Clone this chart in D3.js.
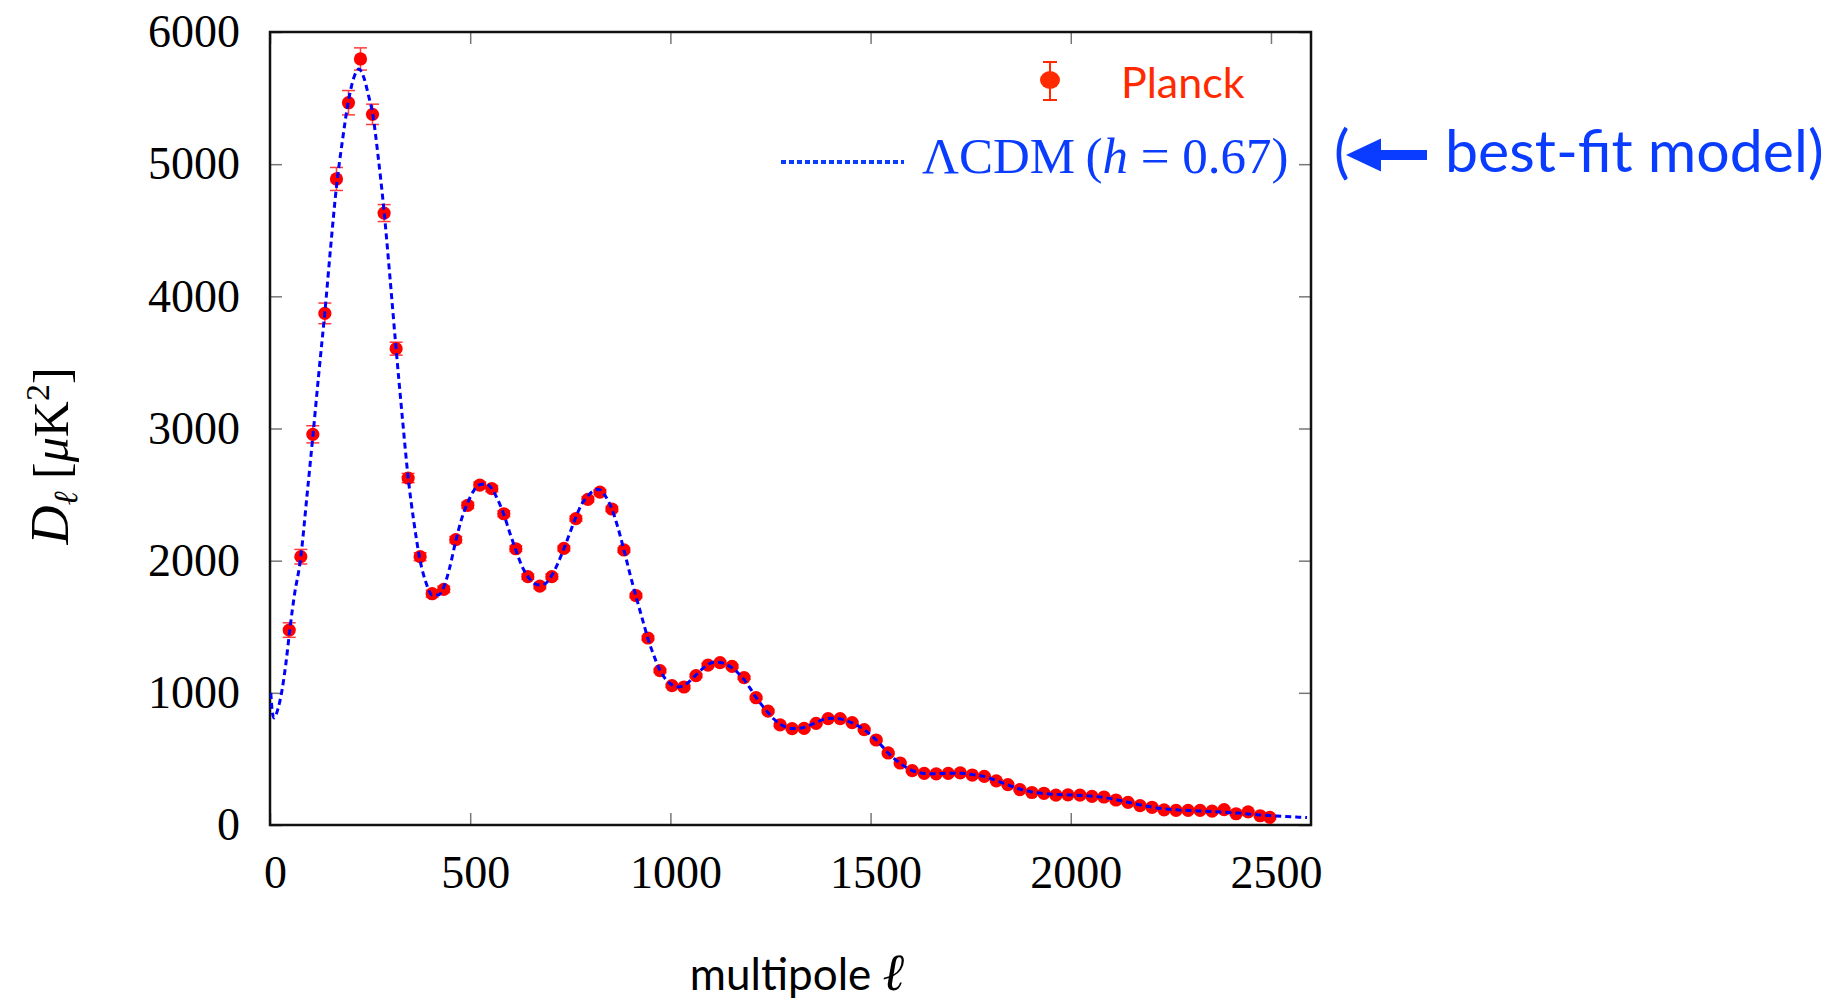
<!DOCTYPE html>
<html>
<head>
<meta charset="utf-8">
<script src="https://cdn.jsdelivr.net/npm/d3@7/dist/d3.min.js"></script>
<style>
  html, body { margin: 0; padding: 0; background: #fff; }
  svg { display: block; }
</style>
</head>
<body>
<svg id="chart" width="1840" height="1001"></svg>
<script>
// Planck binned TT power spectrum: multipole bin centres, D_ell [muK^2] and 1-sigma errors
const ell = [48, 77, 107, 137, 166, 196, 226, 256, 285, 315, 345, 375, 405, 434, 464, 494, 524, 554, 584, 614,
  644, 674, 704, 734, 764, 794, 824, 854, 884, 914, 944, 974, 1004, 1034, 1064, 1094, 1124, 1154, 1184, 1214,
  1244, 1274, 1304, 1334, 1364, 1394, 1424, 1454, 1484, 1514, 1544, 1574, 1604, 1634, 1664, 1694, 1724, 1754,
  1784, 1814, 1843, 1873, 1903, 1933, 1963, 1993, 2023, 2053, 2083, 2113, 2143, 2173, 2203, 2233, 2263, 2293,
  2323, 2353, 2383, 2413, 2443, 2473, 2497];
const Dl = [1475, 2030, 2956, 3871, 4888, 5465, 5796, 5377, 4630, 3604, 2625, 2030, 1750, 1783, 2159, 2419, 2572, 2545, 2355, 2090,
  1879, 1808, 1879, 2093, 2318, 2464, 2519, 2391, 2081, 1735, 1415, 1168, 1054, 1044, 1130, 1210, 1228, 1200, 1115, 963,
  861, 757, 729, 731, 769, 805, 805, 774, 722, 643, 545, 469, 411, 391, 387, 391, 394, 378,
  368, 334, 305, 268, 246, 240, 226, 228, 226, 217, 212, 189, 171, 147, 134, 115, 111, 111,
  111, 105, 116, 85, 99, 70, 58];
const DlErr = [55, 55, 65, 78, 87, 92, 84, 77, 64, 49, 35, 30, 26, 24, 24, 24, 24, 23, 22, 21,
  20, 19, 19, 19, 19, 19, 19, 18, 17, 16, 15, 14, 13, 13, 13, 13, 13, 12, 12, 11,
  11, 10, 10, 10, 10, 10, 10, 10, 10, 9, 9, 9, 9, 9, 9, 9, 9, 9,
  9, 9, 9, 9, 9, 9, 9, 9, 10, 10, 10, 10, 10, 10, 10, 11, 11, 11,
  11, 12, 12, 12, 13, 13, 14];

// Best-fit LambdaCDM model (h = 0.67)
const modelEll = [2, 6, 10, 20, 30, 40, 50, 60, 77, 92, 107, 122, 137, 152, 166, 181, 196, 210, 222, 235,
  246, 256, 270, 285, 300, 315, 330, 345, 360, 375, 390, 405, 420, 434, 449, 464, 479, 494, 509, 524,
  539, 554, 569, 584, 599, 614, 629, 644, 659, 674, 689, 704, 719, 734, 749, 764, 779, 794, 809, 820,
  835, 854, 869, 884, 899, 914, 929, 944, 959, 974, 989, 1004, 1019, 1034, 1049, 1064, 1079, 1094, 1109, 1124,
  1139, 1154, 1169, 1184, 1199, 1214, 1229, 1244, 1259, 1274, 1289, 1304, 1319, 1334, 1349, 1364, 1379, 1394, 1409, 1424,
  1439, 1454, 1469, 1484, 1499, 1514, 1529, 1544, 1559, 1574, 1589, 1604, 1619, 1634, 1664, 1694, 1724, 1754, 1784, 1814,
  1843, 1873, 1903, 1933, 1963, 1993, 2023, 2053, 2083, 2113, 2143, 2173, 2203, 2233, 2263, 2293, 2323, 2353, 2383, 2413,
  2443, 2473, 2503, 2533, 2563, 2590];
const modelD = [1000, 850, 810, 880, 1020, 1230, 1490, 1720, 2030, 2480, 2940, 3420, 3880, 4390, 4830, 5180, 5480, 5660, 5720, 5650,
  5520, 5390, 5060, 4640, 4130, 3600, 3100, 2630, 2280, 2000, 1830, 1740, 1740, 1800, 1950, 2150, 2320, 2440, 2530, 2575,
  2580, 2545, 2460, 2350, 2210, 2080, 1960, 1880, 1830, 1815, 1830, 1890, 1980, 2090, 2210, 2330, 2430, 2490, 2530, 2540,
  2500, 2390, 2250, 2080, 1900, 1730, 1570, 1410, 1280, 1170, 1100, 1060, 1045, 1055, 1090, 1135, 1180, 1215, 1232, 1230,
  1215, 1190, 1150, 1100, 1035, 965, 905, 850, 800, 765, 740, 730, 730, 740, 755, 775, 795, 805, 808, 803,
  790, 772, 750, 722, 685, 643, 595, 545, 503, 467, 435, 412, 398, 390, 388, 392, 392, 382, 366, 336,
  303, 272, 250, 238, 232, 228, 224, 218, 208, 192, 172, 152, 135, 123, 115, 110, 106, 102, 97, 91,
  84, 76, 70, 64, 60, 57];

// Axis ticks
const xTicks = [0, 500, 1000, 1500, 2000, 2500];
const yTicks = [0, 1000, 2000, 3000, 4000, 5000, 6000];

const svg = d3.select("#chart");
svg.append("rect").attr("width", 1840).attr("height", 1001).attr("fill", "#fff");

const plotLeft = 270, plotRight = 1311, plotTop = 32, plotBottom = 825;
const x = d3.scaleLinear().domain([0, 2600]).range([plotLeft, plotRight]);
const y = d3.scaleLinear().domain([0, 6000]).range([plotBottom, plotTop]);

const serif = "'Liberation Serif', 'Times New Roman', serif";
const sans = "Lato, 'Open Sans', sans-serif";
const blue = "#0a3cff";
const fmt = d3.format("d");

// Inward ticks on all four sides
function styleAxis(g) {
  g.select(".domain").remove();
  g.selectAll(".tick line").attr("stroke", "#777").attr("stroke-width", 1.5);
  g.selectAll("text").attr("font-family", serif).attr("font-size", 46).attr("fill", "#000");
}
svg.append("g").attr("transform", `translate(0,${plotBottom})`)
  .call(d3.axisBottom(x).tickValues(xTicks).tickFormat(fmt).tickSizeInner(-12).tickSizeOuter(0).tickPadding(30))
  .call(styleAxis)
  .call(g => g.selectAll("text").attr("dx", 5));
svg.append("g").attr("transform", `translate(0,${plotTop})`)
  .call(d3.axisTop(x).tickValues(xTicks).tickSizeInner(-12).tickSizeOuter(0).tickFormat(""))
  .call(styleAxis);
svg.append("g").attr("transform", `translate(${plotLeft},0)`)
  .call(d3.axisLeft(y).tickValues(yTicks).tickFormat(fmt).tickSizeInner(-12).tickSizeOuter(0).tickPadding(30))
  .call(styleAxis);
svg.append("g").attr("transform", `translate(${plotRight},0)`)
  .call(d3.axisRight(y).tickValues(yTicks).tickSizeInner(-12).tickSizeOuter(0).tickFormat(""))
  .call(styleAxis);

// Plot frame
svg.append("rect").attr("x", plotLeft).attr("y", plotTop)
  .attr("width", plotRight - plotLeft).attr("height", plotBottom - plotTop)
  .attr("fill", "none").attr("stroke", "#111").attr("stroke-width", 2.5);

svg.append("clipPath").attr("id", "plotclip").append("rect")
  .attr("x", plotLeft).attr("y", plotTop).attr("width", plotRight - plotLeft).attr("height", plotBottom - plotTop);
const plot = svg.append("g").attr("clip-path", "url(#plotclip)");

// Data points with error bars
const pts = ell.map((l, i) => ({ l, d: Dl[i], e: DlErr[i] }));
const eb = plot.append("g").attr("stroke", "#ff3b3b").attr("stroke-width", 1.5);
eb.selectAll("line.v").data(pts).join("line").attr("class", "v")
  .attr("x1", d => x(d.l)).attr("x2", d => x(d.l))
  .attr("y1", d => y(d.d - d.e)).attr("y2", d => y(d.d + d.e));
eb.selectAll("line.t").data(pts).join("line").attr("class", "t")
  .attr("x1", d => x(d.l) - 6.5).attr("x2", d => x(d.l) + 6.5)
  .attr("y1", d => y(d.d + d.e)).attr("y2", d => y(d.d + d.e));
eb.selectAll("line.b").data(pts).join("line").attr("class", "b")
  .attr("x1", d => x(d.l) - 6.5).attr("x2", d => x(d.l) + 6.5)
  .attr("y1", d => y(d.d - d.e)).attr("y2", d => y(d.d - d.e));
plot.append("g").selectAll("circle").data(pts).join("circle")
  .attr("cx", d => x(d.l)).attr("cy", d => y(d.d)).attr("r", 6.6).attr("fill", "#ff0000");

// Model curve drawn over the points
const model = modelEll.map((l, i) => [l, modelD[i]]);
plot.append("path").datum(model)
  .attr("fill", "none").attr("stroke", "#0000ff").attr("stroke-width", 3)
  .attr("stroke-dasharray", "6,4")
  .attr("d", d3.line().x(d => x(d[0])).y(d => y(d[1])).curve(d3.curveMonotoneX));

// Legend
const lg = svg.append("g");
lg.append("line").attr("x1", 1050).attr("x2", 1050).attr("y1", 62).attr("y2", 100)
  .attr("stroke", "#ff2a00").attr("stroke-width", 2);
lg.append("line").attr("x1", 1043).attr("x2", 1057).attr("y1", 62).attr("y2", 62)
  .attr("stroke", "#ff2a00").attr("stroke-width", 2);
lg.append("line").attr("x1", 1043).attr("x2", 1057).attr("y1", 100).attr("y2", 100)
  .attr("stroke", "#ff2a00").attr("stroke-width", 2);
lg.append("ellipse").attr("cx", 1050).attr("cy", 80).attr("rx", 10).attr("ry", 9)
  .attr("fill", "#ff2a00");
lg.append("text").attr("x", 1121).attr("y", 98).attr("font-family", sans)
  .attr("font-size", 43).attr("fill", "#ff2a00").text("Planck");

lg.append("line").attr("x1", 781).attr("x2", 904).attr("y1", 162).attr("y2", 162)
  .attr("stroke", blue).attr("stroke-width", 4).attr("stroke-dasharray", "5,3");
const mt = lg.append("text").attr("x", 922).attr("y", 173).attr("font-family", serif)
  .attr("font-size", 51).attr("fill", blue);
mt.append("tspan").text("\u039BCDM\u2009(");
mt.append("tspan").attr("font-style", "italic").text("h");
mt.append("tspan").text("\u2005=\u20050.67)");

// Annotation pointing at the model legend entry
const an = svg.append("g").attr("fill", blue);
an.append("text").attr("x", 1334).attr("y", 172).attr("font-family", sans)
  .attr("font-size", 58).text("(");
an.append("path").attr("d",
  "M1346,155 L1381,138.5 L1381,150 L1427,150 L1427,160 L1381,160 L1381,171.5 Z");
an.append("text").attr("x", 1445).attr("y", 172).attr("font-family", sans)
  .attr("font-size", 59).text("best-fit model)");

// Axis titles
const xt = svg.append("text").attr("x", 797).attr("y", 990).attr("text-anchor", "middle")
  .attr("font-family", sans).attr("font-size", 44).attr("fill", "#000");
xt.append("tspan").text("multipole ");
xt.append("tspan").attr("font-family", serif).attr("font-style", "italic").attr("font-size", 52).text("\u2113");

const yt = svg.append("text").attr("transform", "translate(68,456) rotate(-90)")
  .attr("text-anchor", "middle").attr("font-family", serif).attr("font-size", 50).attr("fill", "#000");
yt.append("tspan").attr("font-style", "italic").attr("font-size", 54).text("D");
yt.append("tspan").attr("font-style", "italic").attr("font-size", 34).attr("dy", 9).text("\u2113");
yt.append("tspan").attr("dy", -9).text(" [");
yt.append("tspan").attr("font-style", "italic").text("\u03BC");
yt.append("tspan").text("K");
yt.append("tspan").attr("font-size", 34).attr("dy", -19).text("2");
yt.append("tspan").attr("dy", 19).text("]");
</script>
</body>
</html>
